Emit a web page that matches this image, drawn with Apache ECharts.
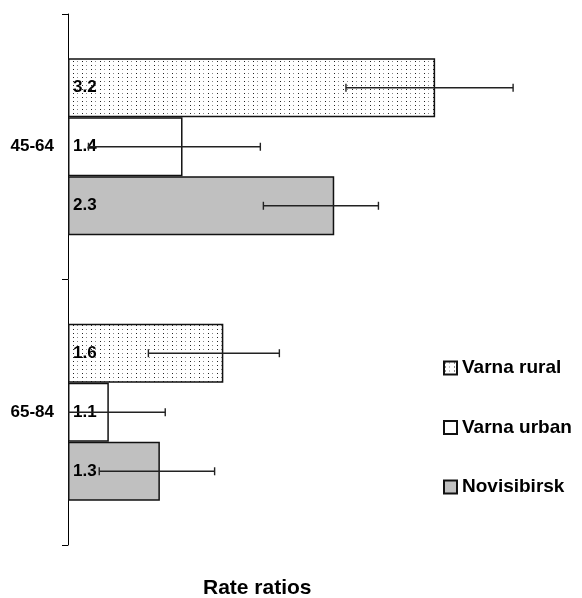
<!DOCTYPE html>
<html>
<head>
<meta charset="utf-8">
<style>
  html, body { margin: 0; padding: 0; background: #fff; }
  #chart { width: 582px; height: 598px; }
</style>
<script src="https://cdn.jsdelivr.net/npm/echarts@6/dist/echarts.min.js"></script>
</head>
<body>
<div id="chart"></div>
<script>
// data
const categories = ['45-64', '65-84'];
const seriesNames = ['Varna rural', 'Varna urban', 'Novisibirsk'];
const ruralValues = [3.2, 1.6];
const urbanValues = [1.4, 1.1];
const novisibirskValues = [2.3, 1.3];
// confidence intervals [low, high] per category
const ruralCI = [[2.39, 4.13], [1.252, 1.922]];
const urbanCI = [[1.029, 1.806], [0.93, 1.323]];
const novisibirskCI = [[1.824, 2.658], [1.066, 1.555]];

// log axis range (axis starts a bit below 1)
const xMin = 0.9624;
const xMax = 4.51;

const font = 'Arial, "Liberation Sans", sans-serif';

// dotted fill for Varna rural
const makeDots = () => {
  const c = document.createElement('canvas');
  c.width = 9;
  c.height = 4;
  const ctx = c.getContext('2d');
  ctx.fillStyle = '#fff';
  ctx.fillRect(0, 0, 9, 4);
  ctx.fillStyle = '#222';
  ctx.fillRect(1, 1, 1, 1);
  ctx.fillStyle = '#888';
  ctx.fillRect(5, 1, 1, 1);
  return c;
};

const fills = [
  { image: makeDots(), repeat: 'repeat' },
  '#ffffff',
  '#c0c0c0'
];

const valueSets = [ruralValues, urbanValues, novisibirskValues];
const ciSets = [ruralCI, urbanCI, novisibirskCI];

const barSeries = seriesNames.map((name, i) => ({
  name: name,
  type: 'bar',
  data: valueSets[i],
  barGap: '0%',
  barCategoryGap: '33.3%',
  itemStyle: { color: fills[i], borderColor: '#111', borderWidth: 1.5 },
  label: {
    show: true,
    position: 'insideLeft',
    distance: 5,
    color: '#000',
    fontFamily: font,
    fontWeight: 'bold',
    fontSize: 17,
    formatter: (p) => p.value.toFixed(1)
  },
  emphasis: { disabled: true }
}));

// error bars: [low, category, high, seriesIndex]
const errorData = [];
ciSets.forEach((ci, s) => {
  ci.forEach((pair, c) => errorData.push([pair[0], c, pair[1], s]));
});

const errorSeries = {
  type: 'custom',
  clip: true,
  z: 5,
  encode: { x: [0, 2], y: 1 },
  data: errorData,
  renderItem: (params, api) => {
    const cat = api.value(1);
    const idx = api.value(3);
    const p0 = api.coord([api.value(0), cat]);
    const p1 = api.coord([api.value(2), cat]);
    const band = Math.abs(api.coord([1, 1])[1] - api.coord([1, 0])[1]);
    const barH = band * (1 - 0.333) / 3;
    const y = p0[1] + (idx - 1) * barH;
    const cap = 4;
    const style = { stroke: '#222', lineWidth: 1.4 };
    return {
      type: 'group',
      children: [
        { type: 'line', shape: { x1: p0[0], y1: y, x2: p1[0], y2: y }, style: style },
        { type: 'line', shape: { x1: p0[0], y1: y - cap, x2: p0[0], y2: y + cap }, style: style },
        { type: 'line', shape: { x1: p1[0], y1: y - cap, x2: p1[0], y2: y + cap }, style: style }
      ]
    };
  }
};

const chart = echarts.init(document.getElementById('chart'));
chart.setOption({
  animation: false,
  title: {
    text: 'Rate ratios',
    left: 203,
    top: 578,
    padding: 0,
    textStyle: { color: '#000', fontFamily: font, fontWeight: 'bold', fontSize: 21 }
  },
  legend: {
    orient: 'vertical',
    left: 443,
    top: 358,
    padding: 0,
    itemGap: 39.5,
    itemWidth: 13,
    itemHeight: 13,
    icon: 'rect',
    data: seriesNames,
    textStyle: { color: '#000', fontFamily: font, fontWeight: 'bold', fontSize: 19, lineHeight: 20 }
  },
  grid: { left: 68, right: 42, top: 14, bottom: 53 },
  xAxis: {
    type: 'log',
    min: xMin,
    max: xMax,
    startValue: xMin,
    axisLine: { show: false },
    axisTick: { show: false },
    axisLabel: { show: false },
    splitLine: { show: false }
  },
  yAxis: {
    type: 'category',
    data: categories,
    inverse: true,
    axisLine: { show: true, lineStyle: { color: '#000', width: 1 } },
    axisTick: { show: true, length: 6, lineStyle: { color: '#000', width: 1 } },
    axisLabel: { margin: 14, color: '#000', fontFamily: font, fontWeight: 'bold', fontSize: 17 }
  },
  series: [...barSeries, errorSeries]
});
</script>
</body>
</html>
